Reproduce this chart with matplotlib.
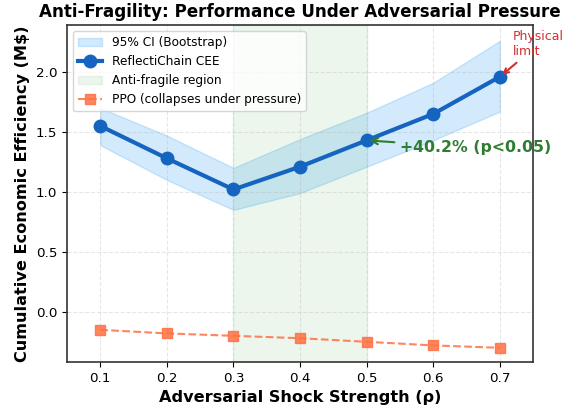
import numpy as np
import matplotlib
matplotlib.use("Agg")
import matplotlib.pyplot as plt

# data
rho = [0.1, 0.2, 0.3, 0.4, 0.5, 0.6, 0.7]
cee = [1.55, 1.28, 1.02, 1.21, 1.43, 1.65, 1.96]
ci_low = [1.39, 1.10, 0.85, 0.99, 1.21, 1.43, 1.67]
ci_high = [1.70, 1.47, 1.20, 1.44, 1.66, 1.91, 2.26]
ppo = [-0.15, -0.18, -0.20, -0.22, -0.25, -0.28, -0.30]
region = (0.3, 0.5)

fig = plt.figure(figsize=(5.77, 4.13), dpi=100)
ax = fig.add_axes([0.116, 0.123, 0.808, 0.816])

ax.fill_between(rho, ci_low, ci_high, color="#2196f3", alpha=0.2,
                label="95% CI (Bootstrap)")
ax.plot(rho, cee, "o-", color="#1565c0", lw=3, ms=9, label="ReflectiChain CEE")
ax.axvspan(region[0], region[1], color="#4caf50", alpha=0.1,
           label="Anti-fragile region")
ax.plot(rho, ppo, "s--", color="#ff7043", lw=1.5, ms=7, alpha=0.85,
        label="PPO (collapses under pressure)")

ax.annotate("+40.2% (p<0.05)", xy=(rho[4], cee[4]), xytext=(0.55, 1.33),
            fontsize=11.3, fontweight="bold", color="#2e7d32",
            arrowprops=dict(arrowstyle="->", color="#2e7d32", lw=1.5))
ax.annotate("Physical\nlimit", xy=(rho[6], cee[6]), xytext=(0.72, 2.14),
            fontsize=9, color="#d32f2f",
            arrowprops=dict(arrowstyle="->", color="#d32f2f", lw=1.5))

ax.set_xlim(0.05, 0.75)
ax.set_ylim(-0.42, 2.39)
ax.set_xticks(rho)
ax.set_yticks([0.0, 0.5, 1.0, 1.5, 2.0])
ax.tick_params(labelsize=9.7)
ax.grid(True, ls="--", alpha=0.3)
ax.set_xlabel("Adversarial Shock Strength (ρ)", fontsize=11.6, fontweight="bold")
ax.set_ylabel("Cumulative Economic Efficiency (M$)", fontsize=11.6, fontweight="bold")
ax.set_title("Anti-Fragility: Performance Under Adversarial Pressure",
             fontsize=12.1, fontweight="bold")
ax.legend(loc="upper left", fontsize=8.7)
for s in ax.spines.values():
    s.set_color("#333333")
    s.set_linewidth(1.2)

fig.savefig("out.png", dpi=100)
